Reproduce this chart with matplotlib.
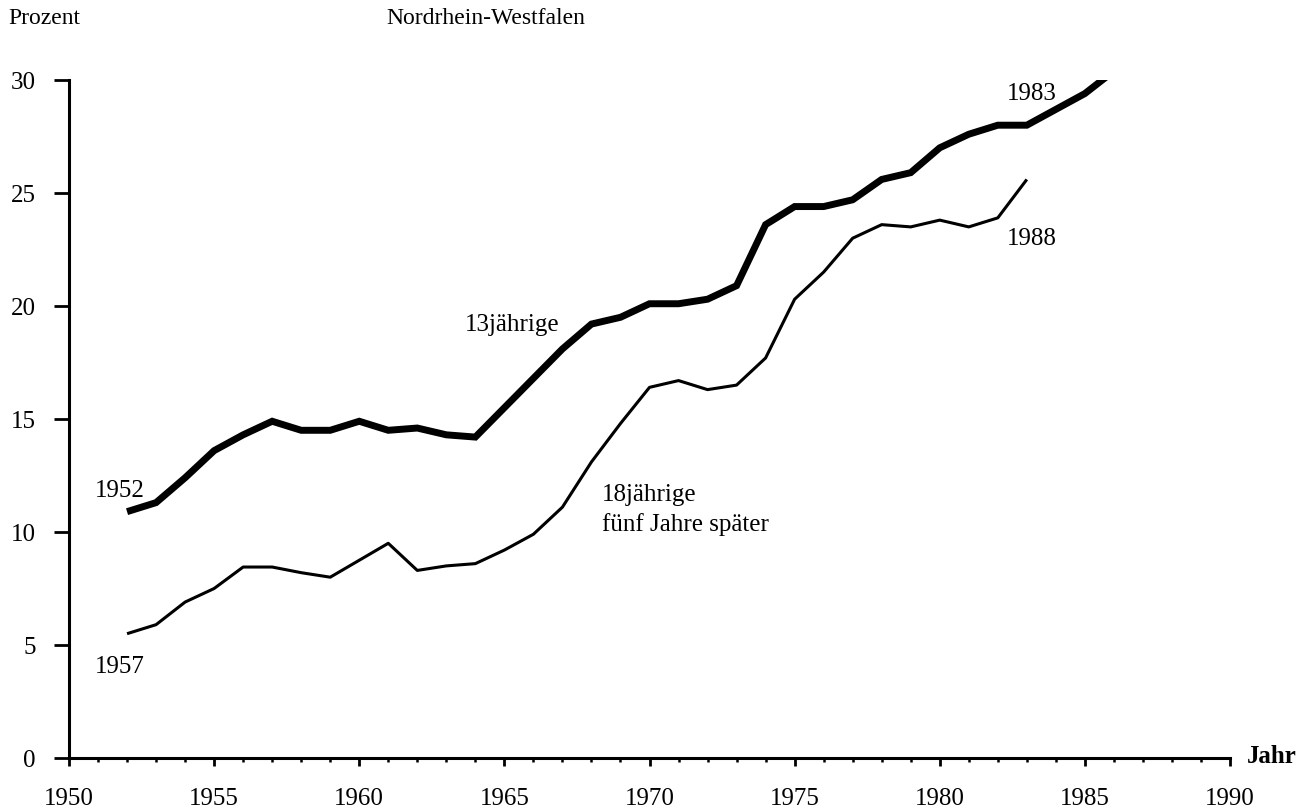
import matplotlib.pyplot as plt
from matplotlib.ticker import MultipleLocator

# Schrift wie im Original (Times-ähnlich)
plt.rcParams['font.family'] = ['Liberation Serif', 'DejaVu Serif']

# Daten: Anteil in Prozent
years_13 = list(range(1952, 1987))
values_13 = [10.9, 11.3, 12.4, 13.6, 14.3, 14.9, 14.5, 14.5, 14.9, 14.5,
             14.6, 14.3, 14.2, 15.5, 16.8, 18.1, 19.2, 19.5, 20.1, 20.1,
             20.3, 20.9, 23.6, 24.4, 24.4, 24.7, 25.6, 25.9, 27.0, 27.6,
             28.0, 28.0, 28.7, 29.4, 30.4]

years_18 = list(range(1952, 1984))
values_18 = [5.5, 5.9, 6.9, 7.5, 8.45, 8.45, 8.2, 8.0, 8.75, 9.5,
             8.3, 8.5, 8.6, 9.2, 9.9, 11.1, 13.1, 14.8, 16.4, 16.7,
             16.3, 16.5, 17.7, 20.3, 21.5, 23.0, 23.6, 23.5, 23.8, 23.5,
             23.9, 25.6]

x_ticks = list(range(1950, 1991, 5))
y_ticks = list(range(0, 31, 5))

FS = 18       # Beschriftungen und Achsen
FS_HEAD = 17  # Kopfzeile


def draw_lines(ax):
    """zeichnet die beiden Kurven"""
    ax.plot(years_13, values_13, color='black', lw=5.0, solid_capstyle='butt',
            solid_joinstyle='miter')
    ax.plot(years_18, values_18, color='black', lw=2.2, solid_capstyle='butt')


def draw_labels(ax):
    """Beschriftungen an den Kurven"""
    ax.text(1950.9, 11.6, '1952', fontsize=FS, va='baseline')
    ax.text(1950.9, 3.8, '1957', fontsize=FS, va='baseline')
    ax.text(1963.64, 18.94, '13jährige', fontsize=FS, va='baseline')
    ax.text(1968.36, 11.42, '18jährige', fontsize=FS, va='baseline')
    ax.text(1968.36, 10.09, 'fünf Jahre später', fontsize=FS, va='baseline')
    ax.text(1982.31, 29.16, '1983', fontsize=FS, va='baseline')
    ax.text(1982.31, 22.74, '1988', fontsize=FS, va='baseline')


def style_axes(ax):
    """Achsen im Stil der Vorlage"""
    ax.set_xlim(1950, 1990)
    ax.set_ylim(0, 30)
    for s in ['top', 'right']:
        ax.spines[s].set_visible(False)
    for s in ['left', 'bottom']:
        ax.spines[s].set_linewidth(2.2)

    ax.set_xticks(x_ticks)
    ax.set_yticks(y_ticks)
    ax.xaxis.set_minor_locator(MultipleLocator(1))
    ax.tick_params(axis='y', direction='out', length=10.8, width=2.0,
                   pad=13, labelsize=FS)
    ax.tick_params(axis='x', which='major', direction='out', length=6,
                   width=2.0, pad=15, labelsize=FS)
    ax.tick_params(axis='x', which='minor', direction='out', length=3,
                   width=1.8)


def create_plot():
    fig = plt.figure(figsize=(13.09, 8.12), dpi=100, facecolor='white')
    ax = fig.add_axes([69 / 1309, 53 / 812, (1230 - 69) / 1309, (759 - 81) / 812])

    draw_lines(ax)
    draw_labels(ax)
    style_axes(ax)

    fig.text(8 / 1309, 1 - 18 / 812, 'Prozent', fontsize=FS_HEAD, va='center', ha='left')
    fig.text(486 / 1309, 1 - 18 / 812, 'Nordrhein-Westfalen', fontsize=FS_HEAD,
             va='center', ha='center')
    fig.text(1247 / 1309, 1 - 763 / 812, 'Jahr', fontsize=FS, fontweight='bold',
             va='baseline', ha='left')

    fig.savefig('out.png', dpi=100, facecolor='white')


if __name__ == '__main__':
    create_plot()
